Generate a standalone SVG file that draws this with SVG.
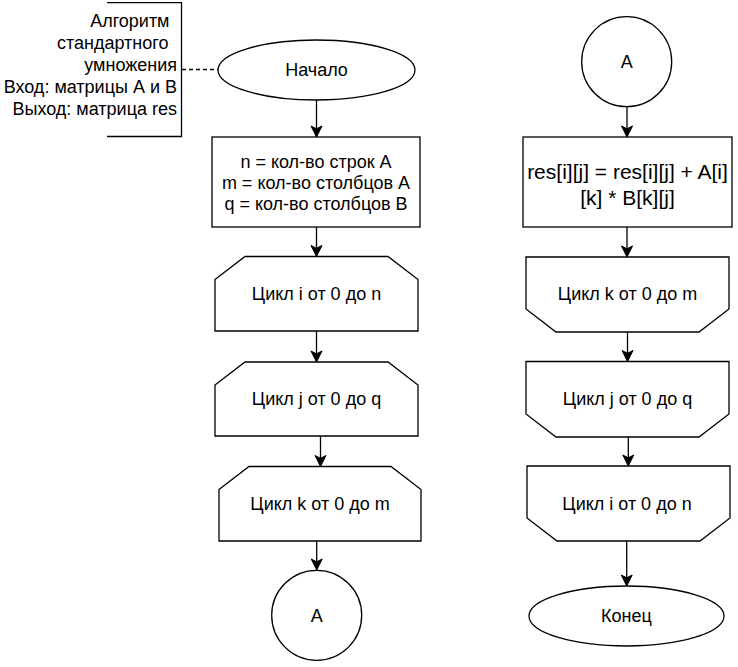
<svg xmlns="http://www.w3.org/2000/svg" width="738" height="667" viewBox="0 0 738 667">
<defs>
<marker id="arr" markerUnits="userSpaceOnUse" markerWidth="14" markerHeight="14" viewBox="0 0 14 14" refX="12" refY="7" orient="auto">
<path d="M1,1.5 L12,7 L1,12.5 L3.8,7 Z" fill="#000" stroke="#000" stroke-width="1"/>
</marker>
</defs>
<style>
.s{fill:#fff;stroke:#000;stroke-width:1.3}
.t{font-family:"Liberation Sans",Arial,Helvetica,sans-serif;font-size:18px;fill:#000;text-anchor:middle}
.c{fill:none;stroke:#000;stroke-width:1.3}
</style>
<rect width="738" height="667" fill="#fff"/>
<g id="connectors">
<path class="c" d="M182,69.5 L218,69.5" stroke-dasharray="4,3"/>
<path class="c" d="M316.5,100 L316.5,137" marker-end="url(#arr)"/>
<path class="c" d="M316.5,227 L316.5,256.5" marker-end="url(#arr)"/>
<path class="c" d="M316.5,331 L316.5,362" marker-end="url(#arr)"/>
<path class="c" d="M320.5,436 L320.5,466.5" marker-end="url(#arr)"/>
<path class="c" d="M316.7,541 L316.7,570" marker-end="url(#arr)"/>
<path class="c" d="M627,106.7 L627,137" marker-end="url(#arr)"/>
<path class="c" d="M627,227 L627,257" marker-end="url(#arr)"/>
<path class="c" d="M627.5,332 L627.5,361.5" marker-end="url(#arr)"/>
<path class="c" d="M628.3,437 L628.3,466" marker-end="url(#arr)"/>
<path class="c" d="M626.7,541 L626.7,586" marker-end="url(#arr)"/>
</g>
<g id="annotation">
<path class="c" d="M107,2.7 L181.5,2.7 L181.5,136.5 L107,136.5"/>
<text class="t" style="text-anchor:end" x="169.5" y="27.3">Алгоритм</text>
<text class="t" style="text-anchor:end" x="168.5" y="49.2">стандартного</text>
<text class="t" style="text-anchor:end" x="177" y="71.1">умножения</text>
<text class="t" style="text-anchor:end" x="177" y="93">Вход: матрицы А и В</text>
<text class="t" style="text-anchor:end" x="177" y="115">Выход: матрица res</text>
</g>
<g id="start">
<ellipse class="s" cx="316.5" cy="70" rx="98.5" ry="30"/>
<text class="t" x="316.5" y="76">Начало</text>
</g>
<g id="init">
<rect class="s" x="212" y="137" width="208" height="90"/>
<text class="t" x="316" y="167.5">n = кол-во строк А</text>
<text class="t" x="316" y="188.5">m = кол-во столбцов А</text>
<text class="t" x="316" y="209.5">q = кол-во столбцов В</text>
</g>
<g id="loop-i-start">
<path class="s" d="M215,279.5 L245,256.5 L388,256.5 L418,279.5 L418,331 L215,331 Z"/>
<text class="t" x="316.5" y="299.5">Цикл i от 0 до n</text>
</g>
<g id="loop-j-start">
<path class="s" d="M215,385 L245,362 L388,362 L418,385 L418,436 L215,436 Z"/>
<text class="t" x="316.5" y="405">Цикл j от 0 до q</text>
</g>
<g id="loop-k-start">
<path class="s" d="M219,489.5 L249,466.5 L391,466.5 L421,489.5 L421,541 L219,541 Z"/>
<text class="t" x="320" y="509.5">Цикл k от 0 до m</text>
</g>
<g id="connector-a-out">
<circle class="s" cx="316.7" cy="615.3" r="45"/>
<text class="t" x="316.7" y="621.5">A</text>
</g>
<g id="connector-a-in">
<circle class="s" cx="626.7" cy="61.7" r="45"/>
<text class="t" x="626.7" y="68">A</text>
</g>
<g id="compute">
<rect class="s" x="523" y="137" width="209" height="90"/>
<text class="t" style="font-size:21px" x="627.5" y="178.5">res[i][j] = res[i][j] + A[i]</text>
<text class="t" style="font-size:21px" x="627.5" y="204.5">[k] * B[k][j]</text>
</g>
<g id="loop-k-end">
<path class="s" d="M526,257 L729,257 L729,309 L699,332 L556,332 L526,309 Z"/>
<text class="t" x="627.5" y="299.5">Цикл k от 0 до m</text>
</g>
<g id="loop-j-end">
<path class="s" d="M526,361.5 L729,361.5 L729,414 L699,437 L556,437 L526,414 Z"/>
<text class="t" x="627.5" y="405">Цикл j от 0 до q</text>
</g>
<g id="loop-i-end">
<path class="s" d="M527,466 L730,466 L730,518 L700,541 L557,541 L527,518 Z"/>
<text class="t" x="627" y="509.5">Цикл i от 0 до n</text>
</g>
<g id="end">
<ellipse class="s" cx="626.5" cy="616" rx="97.5" ry="30"/>
<text class="t" x="626.5" y="622">Конец</text>
</g>
</svg>
